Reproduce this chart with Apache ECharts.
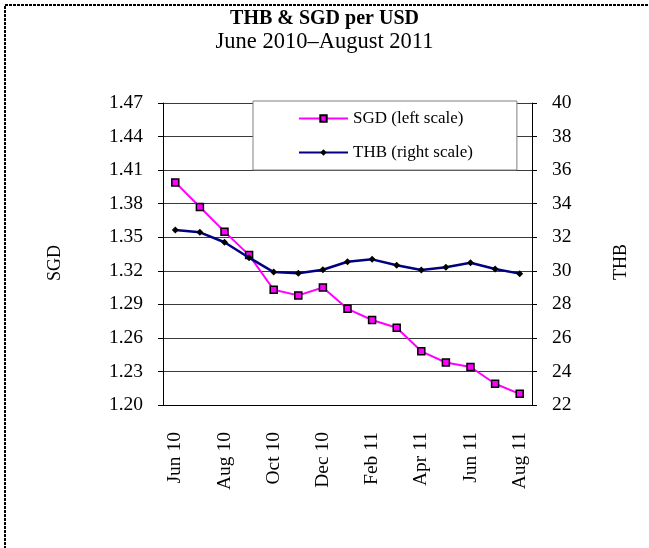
<!DOCTYPE html>
<html>
<head>
<meta charset="utf-8">
<script src="https://cdn.jsdelivr.net/npm/echarts@6/dist/echarts.min.js"></script>
<style>
  html, body { margin: 0; padding: 0; background: #fff; }
  #chart { width: 649px; height: 548px; }
</style>
</head>
<body>
<div id="chart"></div>
<script>
// Monthly averages, June 2010 – August 2011
var months = ['Jun 10', 'Jul 10', 'Aug 10', 'Sep 10', 'Oct 10', 'Nov 10', 'Dec 10',
              'Jan 11', 'Feb 11', 'Mar 11', 'Apr 11', 'May 11', 'Jun 11', 'Jul 11', 'Aug 11'];
// Singapore dollars per US dollar (left scale)
var sgd = [1.399, 1.377, 1.355, 1.334, 1.303, 1.298, 1.305, 1.286, 1.276, 1.269,
           1.248, 1.238, 1.234, 1.219, 1.210];
// Thai baht per US dollar (right scale)
var thb = [32.43, 32.29, 31.70, 30.78, 29.92, 29.85, 30.06, 30.54, 30.68, 30.33,
           30.05, 30.21, 30.48, 30.11, 29.83];

var serif = "'Liberation Serif', 'Times New Roman', serif";
var tickFont = 19.5;

var chart = echarts.init(document.getElementById('chart'), null, { renderer: 'canvas' });

chart.setOption({
  backgroundColor: '#ffffff',
  animation: false,
  textStyle: { fontFamily: serif, color: '#000' },
  title: {
    text: 'THB & SGD per USD',
    subtext: 'June 2010\u2013August 2011',
    left: 'center',
    top: 4,
    itemGap: 2,
    textStyle: { fontFamily: serif, fontSize: 20, fontWeight: 'bold', color: '#000' },
    subtextStyle: { fontFamily: serif, fontSize: 22.5, color: '#000' }
  },
  legend: {
    orient: 'vertical',
    left: 253,
    top: 101,
    padding: [9, 44, 9, 45],
    itemGap: 17,
    itemWidth: 49,
    itemHeight: 8,
    backgroundColor: '#ffffff',
    borderColor: '#808080',
    borderWidth: 1,
    borderRadius: 0,
    textStyle: { fontFamily: serif, fontSize: 17, color: '#000' },
    data: ['SGD (left scale)', 'THB (right scale)']
  },
  grid: { left: 163, right: 117, top: 103, bottom: 143, containLabel: false },
  xAxis: {
    type: 'category',
    data: months,
    boundaryGap: true,
    axisLine: { lineStyle: { color: '#000', width: 1 } },
    axisTick: { interval: 1, length: 5, lineStyle: { color: '#000' } },
    axisLabel: { interval: 1, rotate: 90, margin: 27, fontFamily: serif, fontSize: tickFont, color: '#000' },
    splitLine: { show: false }
  },
  yAxis: [
    {
      type: 'value',
      min: 1.20,
      max: 1.47,
      interval: 0.03,
      axisLine: { show: true, lineStyle: { color: '#000', width: 1 } },
      axisTick: { show: true, length: 5, lineStyle: { color: '#000' } },
      axisLabel: {
        margin: 20, fontFamily: serif, fontSize: tickFont, color: '#000',
        formatter: function (v) { return v.toFixed(2); }
      },
      splitLine: { show: true, lineStyle: { color: '#3a3a3a', width: 1 } }
    },
    {
      type: 'value',
      min: 22,
      max: 40,
      interval: 2,
      position: 'right',
      axisLine: { show: true, lineStyle: { color: '#000', width: 1 } },
      axisTick: { show: true, length: 5, lineStyle: { color: '#000' } },
      axisLabel: { margin: 20, fontFamily: serif, fontSize: tickFont, color: '#000' },
      splitLine: { show: false }
    }
  ],
  series: [
    {
      name: 'SGD (left scale)',
      type: 'line',
      yAxisIndex: 0,
      data: sgd,
      symbol: 'rect',
      symbolSize: 7,
      lineStyle: { color: '#ff00ff', width: 2 },
      itemStyle: { color: '#ff00ff', borderColor: '#000', borderWidth: 1.5 },
      z: 3
    },
    {
      name: 'THB (right scale)',
      type: 'line',
      yAxisIndex: 1,
      data: thb,
      symbol: 'diamond',
      symbolSize: 7,
      lineStyle: { color: '#000080', width: 2.5 },
      itemStyle: { color: '#000', borderColor: '#000', borderWidth: 0 },
      z: 4
    }
  ],
  graphic: [
    {
      type: 'rect',
      shape: { x: 5, y: 5, width: 720, height: 620 },
      style: { fill: 'none', stroke: '#000', lineWidth: 2, lineDash: [3, 1] },
      silent: true
    },
    {
      type: 'text',
      x: 55, y: 263,
      rotation: Math.PI / 2,
      style: { text: 'SGD', fontFamily: serif, fontSize: 18, fill: '#000', align: 'center', verticalAlign: 'middle' }
    },
    {
      type: 'text',
      x: 621, y: 262,
      rotation: Math.PI / 2,
      style: { text: 'THB', fontFamily: serif, fontSize: 18, fill: '#000', align: 'center', verticalAlign: 'middle' }
    }
  ]
});
</script>
</body>
</html>
